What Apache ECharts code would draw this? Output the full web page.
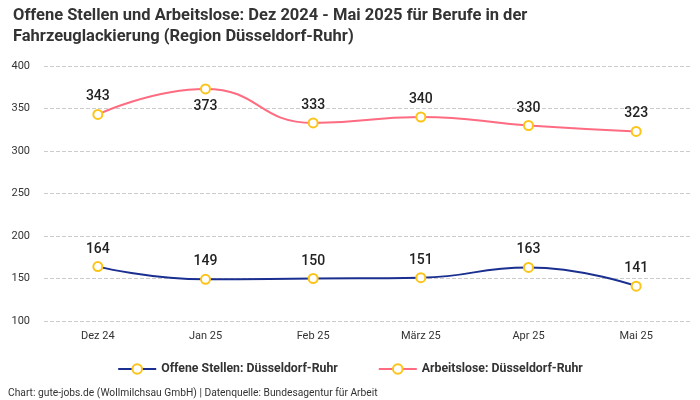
<!DOCTYPE html>
<html><head><meta charset="utf-8">
<script src="https://cdn.jsdelivr.net/npm/echarts@6/dist/echarts.min.js"></script>
<style>html,body{margin:0;padding:0;background:#fff}#c{width:700px;height:400px}</style>
</head><body><div id="c"></div>
<script>
const categories = ['Dez 24','Jan 25','Feb 25','März 25','Apr 25','Mai 25'];
const offeneStellen = [164,149,150,151,163,141];
const arbeitslose = [343,373,333,340,330,323];
const yTicks = [100,150,200,250,300,350,400];
const FONT = 'Roboto, "Noto Sans", sans-serif';
const chart = echarts.init(document.getElementById('c'));
const sym = {symbol:'circle', symbolSize:9, itemStyle:{borderColor:'#fcc419', borderWidth:2, color:'#fff'}};
chart.setOption({
  animation:false,
  title:{text:'Offene Stellen und Arbeitslose: Dez 2024 - Mai 2025 für Berufe in der\nFahrzeuglackierung (Region Düsseldorf-Ruhr)', left:8, top:0,
    textStyle:{fontFamily:FONT, fontSize:16.5, fontWeight:'bold', color:'#333', lineHeight:21}},
  graphic:[{type:'text', left:8, top:388, style:{text:'Chart: gute-jobs.de (Wollmilchsau GmbH) | Datenquelle: Bundesagentur für Arbeit', fontFamily:FONT, fontSize:10.25, fill:'#333'}}],
  legend:{bottom:20, left:'center', itemGap:40, itemWidth:38, itemHeight:12, textStyle:{fontFamily:FONT, fontSize:12.3, fontWeight:'bold', color:'#333'},
    data:['Offene Stellen: Düsseldorf-Ruhr','Arbeitslose: Düsseldorf-Ruhr']},
  grid:{left:44, right:10, top:66, bottom:79},
  xAxis:{type:'category', data:categories, boundaryGap:true,
    axisLine:{show:false}, axisTick:{show:false},
    axisLabel:{fontFamily:FONT, fontSize:11, color:'#333', margin:10}},
  yAxis:{type:'value', min:yTicks[0], max:yTicks[yTicks.length-1], interval:50,
    axisLabel:{fontFamily:FONT, fontSize:11, color:'#333', margin:14},
    splitLine:{lineStyle:{type:'dashed', color:'#ccc'}}},
  series:[
    Object.assign({name:'Offene Stellen: Düsseldorf-Ruhr', type:'line', smooth:true, data:offeneStellen,
      lineStyle:{color:'#1a2f8f', width:2},
      label:{show:true, position:'top', distance:5, fontFamily:FONT, fontSize:14, fontWeight:500, color:'#222'}}, sym),
    Object.assign({name:'Arbeitslose: Düsseldorf-Ruhr', type:'line', smooth:true,
      data:arbeitslose.map((v,i)=> i===1 ? {value:v, label:{position:'bottom'}} : v),
      lineStyle:{color:'#ff6b81', width:2},
      label:{show:true, position:'top', distance:5, fontFamily:FONT, fontSize:14, fontWeight:500, color:'#222'}}, sym)
  ]
});
</script></body></html>
